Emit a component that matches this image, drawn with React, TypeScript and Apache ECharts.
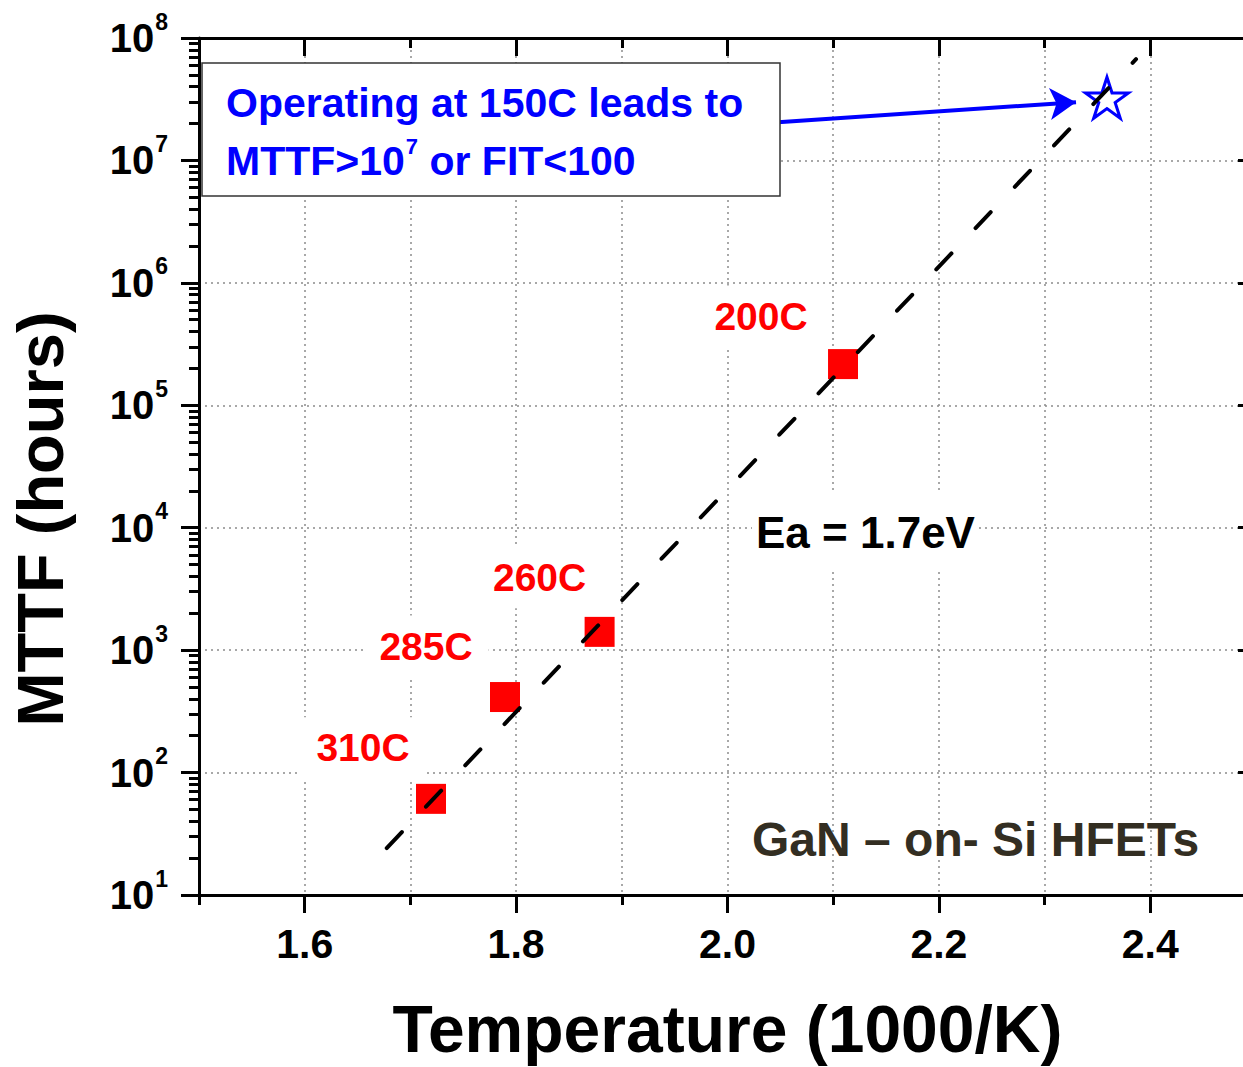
import React, { useEffect, useRef } from 'react';
import * as echarts from 'echarts';

// ---- data ----
const xMajorTicks = [1.6, 1.8, 2.0, 2.2, 2.4];
const pointLabels = ['310C', '285C', '260C', '200C'];
const pointX = [1.7195, 1.7895, 1.879, 2.1093];
const pointMTTF = [61, 414, 1410, 2.17e5];
const starX = [2.359];
const starMTTF = [3.25e7];
const fitX = [1.6776, 2.3865];
const fitMTTF = [24.2, 6.72e7];
const arrowFrom = [2.0478, 2.05e7];
const arrowTo = [2.3297, 2.99e7];
const decades = [10, 100, 1e3, 1e4, 1e5, 1e6, 1e7];
const minorMultipliers = [2, 3, 4, 5, 6, 7, 8, 9];

// ---- styling ----
const FONT = '"Liberation Sans", Arial, Helvetica, sans-serif';
const labelOffsets = [
  [-68, -51],
  [-79, -51],
  [-60, -54],
  [-82, -48],
];
const STAR =
  'path://M50 0 L61.23 34.55 L97.55 34.55 L68.17 55.9 L79.39 90.45 L50 69.1 L20.61 90.45 L31.83 55.9 L2.45 34.55 L38.77 34.55 Z';

const minorYTicks: number[] = [];
decades.forEach((d) => minorMultipliers.forEach((m) => minorYTicks.push(d * m)));

const black = '#000';
const tickStyle = { color: black, width: 3 };
const gridLine = { color: '#8c8c8c', width: 1.5, type: [2, 4] };

export default function App() {
  const ref = useRef<HTMLDivElement>(null);
  useEffect(() => {
    if (!ref.current) return;
    const chart = echarts.init(ref.current, null, { renderer: 'svg' });
    const option: any = {
      animation: false,
      backgroundColor: '#fff',
      grid: {
        left: 199,
        top: 38,
        right: -13,
        bottom: 172,
        containLabel: false,
        outerBoundsMode: 'none',
      },
      xAxis: [
        {
          type: 'value',
          position: 'bottom',
          min: 1.5,
          max: 2.5,
          interval: 0.1,
          axisLine: { show: true, onZero: false, lineStyle: { color: black, width: 3 } },
          axisTick: { show: true, inside: false, length: 10, lineStyle: tickStyle },
          axisLabel: { show: false },
          splitLine: { show: true, lineStyle: gridLine },
          name: 'Temperature (1000/K)',
          nameLocation: 'middle',
          nameGap: 101,
          nameMoveOverlap: false,
          nameTextStyle: { fontFamily: FONT, fontWeight: 'bold', fontSize: 66, lineHeight: 66, color: black },
        },
        {
          type: 'value',
          position: 'bottom',
          min: 1.5,
          max: 2.5,
          axisLine: { show: false, onZero: false },
          axisTick: { show: true, inside: false, length: 18, customValues: xMajorTicks, lineStyle: tickStyle },
          axisLabel: {
            show: true,
            customValues: xMajorTicks,
            margin: 28,
            formatter: (v: number) => v.toFixed(1),
            fontFamily: FONT,
            fontWeight: 'bold',
            fontSize: 41,
            color: black,
          },
          splitLine: { show: false },
        },
        {
          type: 'value',
          position: 'top',
          min: 1.5,
          max: 2.5,
          interval: 0.1,
          axisLine: { show: true, onZero: false, lineStyle: { color: black, width: 3 } },
          axisTick: { show: true, inside: true, length: 10, lineStyle: tickStyle },
          axisLabel: { show: false },
          splitLine: { show: false },
        },
        {
          type: 'value',
          position: 'top',
          min: 1.5,
          max: 2.5,
          axisLine: { show: false, onZero: false },
          axisTick: { show: true, inside: true, length: 18, customValues: xMajorTicks, lineStyle: tickStyle },
          axisLabel: { show: false },
          splitLine: { show: false },
        },
      ],
      yAxis: [
        {
          type: 'log',
          logBase: 10,
          min: 10,
          max: 1e8,
          position: 'left',
          axisLine: { show: true, onZero: false, lineStyle: { color: black, width: 3 } },
          axisTick: { show: true, inside: false, length: 18, lineStyle: tickStyle },
          axisLabel: {
            margin: 31,
            formatter: (v: number) => `{b|10}{s|${Math.round(Math.log10(v))}}`,
            rich: {
              b: { fontFamily: FONT, fontWeight: 'bold', fontSize: 40, color: black },
              s: { fontFamily: FONT, fontWeight: 'bold', fontSize: 23, color: black, padding: [0, 0, 33, 1] },
            },
          },
          splitLine: { show: true, lineStyle: gridLine },
          name: 'MTTF (hours)',
          nameLocation: 'middle',
          nameRotate: 90,
          nameGap: 126,
          nameMoveOverlap: false,
          nameTextStyle: {
            fontFamily: FONT,
            fontWeight: 'bold',
            fontSize: 65,
            color: black,
            padding: [0, 105, 0, 0],
          },
        },
        {
          type: 'log',
          logBase: 10,
          min: 10,
          max: 1e8,
          position: 'left',
          axisLine: { show: false, onZero: false },
          axisTick: { show: true, inside: false, length: 10, customValues: minorYTicks, lineStyle: tickStyle },
          axisLabel: { show: false },
          splitLine: { show: false },
        },
        {
          type: 'log',
          logBase: 10,
          min: 10,
          max: 1e8,
          position: 'right',
          axisLine: { show: true, onZero: false, lineStyle: { color: black, width: 3 } },
          axisTick: { show: true, inside: true, length: 18, lineStyle: tickStyle },
          axisLabel: { show: false },
          splitLine: { show: false },
        },
      ],
      series: [
        {
          type: 'scatter',
          name: 'Stress tests',
          xAxisIndex: 0,
          yAxisIndex: 0,
          symbol: 'rect',
          symbolSize: 30,
          itemStyle: { color: '#ff0000', opacity: 1 },
          data: pointX.map((x, i) => ({
            value: [x, pointMTTF[i]],
            label: { offset: labelOffsets[i] },
          })),
          label: {
            show: true,
            position: 'inside',
            formatter: (p: any) => pointLabels[p.dataIndex],
            color: '#ff0000',
            opacity: 1,
            fontFamily: FONT,
            fontWeight: 'bold',
            fontSize: 39,
            backgroundColor: '#fff',
            padding: [11, 16],
          },
          z: 3,
        },
        {
          type: 'scatter',
          name: '150C',
          xAxisIndex: 0,
          yAxisIndex: 0,
          symbol: STAR,
          symbolSize: [43, 41],
          itemStyle: { color: 'rgba(255,255,255,0)', borderColor: '#0000ff', borderWidth: 3, opacity: 1 },
          data: starX.map((x, i) => [x, starMTTF[i]]),
          markLine: {
            silent: true,
            symbol: ['none', 'arrow'],
            symbolSize: [24, 26],
            label: { show: false },
            lineStyle: { color: '#0000ff', width: 4, type: 'solid', opacity: 1 },
            emphasis: { disabled: true },
            data: [[{ coord: arrowFrom }, { coord: arrowTo }]],
          },
          z: 3,
        },
        {
          type: 'line',
          name: 'Fit',
          xAxisIndex: 0,
          yAxisIndex: 0,
          symbol: 'none',
          data: fitX.map((x, i) => [x, fitMTTF[i]]),
          lineStyle: { color: black, width: 4, type: [22, 35], cap: 'round' },
          z: 4,
        },
      ],
      graphic: [
        {
          type: 'rect',
          z: 100,
          shape: { x: 202, y: 63, width: 578, height: 133 },
          style: { fill: '#fff', stroke: '#333', lineWidth: 1.5 },
        },
        {
          type: 'text',
          z: 101,
          x: 226,
          y: 103,
          style: {
            text: 'Operating at 150C leads to',
            fill: '#0000ff',
            fontFamily: FONT,
            fontWeight: 'bold',
            fontSize: 41,
            align: 'left',
            verticalAlign: 'middle',
          },
        },
        {
          type: 'text',
          z: 101,
          x: 226,
          y: 161,
          style: {
            text: '{n|MTTF>10}{s|7}{n| or FIT<100}',
            align: 'left',
            verticalAlign: 'middle',
            rich: {
              n: { fill: '#0000ff', fontFamily: FONT, fontWeight: 'bold', fontSize: 41 },
              s: { fill: '#0000ff', fontFamily: FONT, fontWeight: 'bold', fontSize: 22, padding: [0, 0, 30, 1] },
            },
          },
        },
        {
          type: 'text',
          z: 50,
          x: 752,
          y: 532,
          style: {
            text: 'Ea = 1.7eV',
            fill: black,
            fontFamily: FONT,
            fontWeight: 'bold',
            fontSize: 44,
            align: 'left',
            verticalAlign: 'middle',
            backgroundColor: '#fff',
            padding: [16, 4],
          },
        },
        {
          type: 'text',
          z: 50,
          x: 752,
          y: 839,
          style: {
            text: 'GaN – on- Si HFETs',
            fill: '#332e22',
            fontFamily: FONT,
            fontWeight: 'bold',
            fontSize: 48,
            align: 'left',
            verticalAlign: 'middle',
          },
        },
      ],
    };
    chart.setOption(option);
    return () => chart.dispose();
  }, []);
  return (
    <div
      ref={ref}
      style={{ position: 'fixed', left: 0, top: 0, width: 1243, height: 1067, background: '#fff' }}
    />
  );
}
